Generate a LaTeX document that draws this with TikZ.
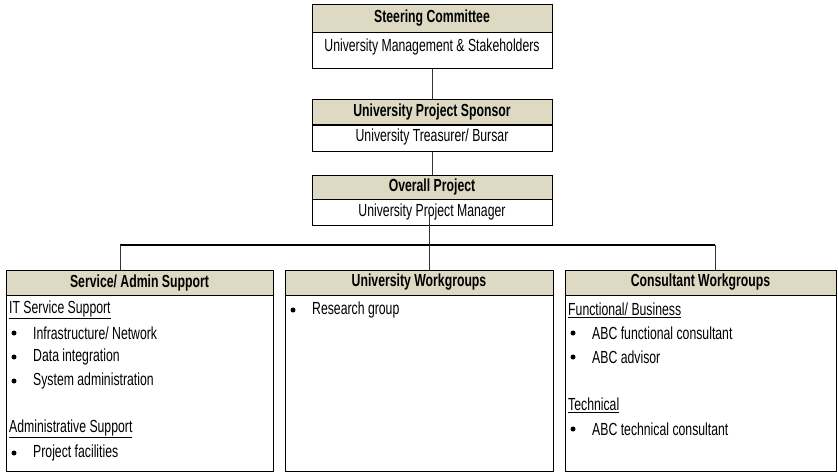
\documentclass[tikz,border=0pt]{standalone}
\usepackage{fontspec}
\setmainfont{Liberation Sans}[FakeStretch=0.70]
\definecolor{headtan}{HTML}{DDD9C3}

\begin{document}
\begin{tikzpicture}[
    x=1pt, y=-1pt,
    every node/.style={inner sep=0pt, font=\fontsize{17.5}{20}\selectfont},
    headbox/.style={draw, line width=0.9pt, fill=headtan, font=\fontsize{17.5}{20}\selectfont\bfseries},
    bodybox/.style={draw, line width=0.9pt, anchor=north},
    item/.style={anchor=west},
    dot/.style={circle, fill, minimum size=5pt},
    link/.style={draw=black!80, line width=0.9pt}
]
\useasboundingbox (0,0) rectangle (838,475);

% Management chain
\node[headbox, minimum width=240pt, minimum height=28pt] (steer) at (432,18) {Steering Committee};
\node[bodybox, minimum width=240pt, minimum height=36pt] (steerb) at (steer.south) {};
\node (steert) at (432,47) {University Management \& Stakeholders};

\node[headbox, minimum width=240pt, minimum height=25pt] (sponsor) at (432,112) {University Project Sponsor};
\node[bodybox, minimum width=240pt, minimum height=26pt] (sponsorb) at (sponsor.south) {};
\node (sponsort) at (432,137) {University Treasurer/ Bursar};

\node[headbox, minimum width=240pt, minimum height=24pt] (overall) at (432,187) {Overall Project};
\node[bodybox, minimum width=240pt, minimum height=26pt] (overallb) at (overall.south) {};
\node (overallt) at (432,212) {University Project Manager};

% Workgroup headers
\node[headbox, minimum width=267pt, minimum height=25pt] (admin) at (139.5,282.5) {Service/ Admin Support};
\node[bodybox, minimum width=267pt, minimum height=176pt] (adminb) at (admin.south) {};
\node[headbox, minimum width=268pt, minimum height=25pt] (univ) at (419,282.5) {University Workgroups};
\node[bodybox, minimum width=268pt, minimum height=176pt] (univb) at (univ.south) {};
\node[headbox, minimum width=271pt, minimum height=25pt] (cons) at (700.5,282.5) {Consultant Workgroups};
\node[bodybox, minimum width=271pt, minimum height=176pt] (consb) at (cons.south) {};

% Service/ Admin Support list
\node[item] (it) at (9,310) {\underline{IT Service Support}};
\node[dot] (b1) at (14,333) {};
\node[item] (infra) at (33,333) {Infrastructure/ Network};
\node[dot] (b2) at (14,357) {};
\node[item] (data) at (33,357) {Data integration};
\node[dot] (b3) at (14,381) {};
\node[item] (sysadm) at (33,381) {System administration};
\node[item] (adm) at (9,429) {\underline{Administrative Support}};
\node[dot] (b4) at (14,453) {};
\node[item] (facil) at (33,453) {Project facilities};

% University Workgroups list
\node[dot] (b5) at (293,310) {};
\node[item] (research) at (312,310) {Research group};

% Consultant Workgroups list
\node[item] (func) at (568,310) {\underline{Functional/ Business}};
\node[dot] (b6) at (573,333) {};
\node[item] (abcf) at (592,333) {ABC functional consultant};
\node[dot] (b7) at (573,357) {};
\node[item] (abca) at (592,357) {ABC advisor};
\node[item] (tech) at (568,405) {\underline{Technical}};
\node[dot] (b8) at (573,429) {};
\node[item] (abct) at (592,429) {ABC technical consultant};

% Connectors
\coordinate (busl) at (120,245);
\coordinate (busm) at (429,245);
\coordinate (busr) at (715,245);
\draw[link] (steerb.south) -- (sponsor.north);
\draw[link] (sponsorb.south) -- (overall.north);
\draw[link] (busm |- overallt.center) -- (busm);
\draw[line width=1.3pt] (busl) -- (busr);
\draw[link] (busl) -- (busl |- admin.north);
\draw[link] (busm) -- (busm |- univ.north);
\draw[link] (busr) -- (busr |- cons.north);
\end{tikzpicture}
\end{document}
